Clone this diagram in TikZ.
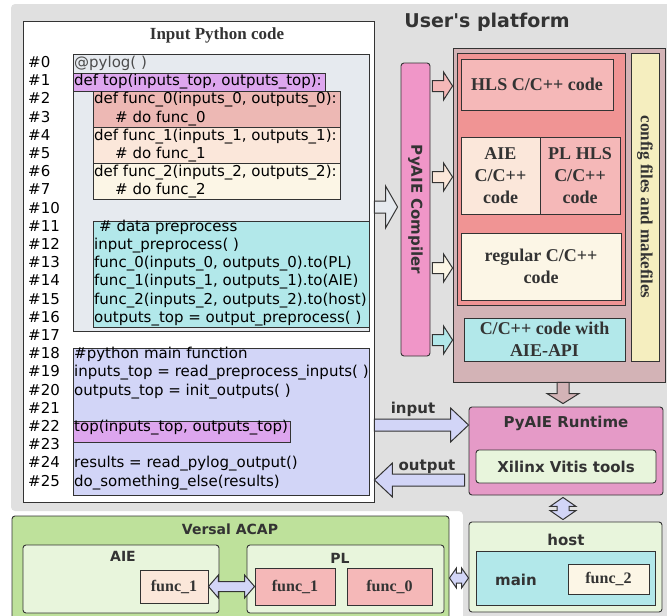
\documentclass[tikz,border=0pt]{standalone}
\usepackage{fontspec}
\setmainfont{Liberation Serif}
\setsansfont{DejaVu Sans}
\usetikzlibrary{calc}

\definecolor{platgray}{HTML}{E0E0E0}
\definecolor{linegray}{HTML}{333333}
\definecolor{txtgray}{HTML}{333333}
\definecolor{decogray}{HTML}{E6EAEF}
\definecolor{toppurple}{HTML}{DDA6EE}
\definecolor{funcred}{HTML}{EDB8B4}
\definecolor{funcpeach}{HTML}{FBE7DA}
\definecolor{funccream}{HTML}{FCF6E6}
\definecolor{prepcyan}{HTML}{B2E8EA}
\definecolor{mainblue}{HTML}{D2D5F7}
\definecolor{compink}{HTML}{F096C8}
\definecolor{platmauve}{HTML}{D3B3B6}
\definecolor{hlsred}{HTML}{F09494}
\definecolor{hlspink}{HTML}{F5B8B8}
\definecolor{cfgyellow}{HTML}{F5EEBF}
\definecolor{rtpink}{HTML}{E59AC7}
\definecolor{lightgreen}{HTML}{E8F5DC}
\definecolor{versalgreen}{HTML}{BEE19B}

\newcommand{\codefont}{\sffamily\fontsize{15}{18}\selectfont}

\tikzset{
  arrshaft/.store in=\arrshaft, arrhead/.store in=\arrhead, arrlen/.store in=\arrlen,
  arrshaft=6pt, arrhead=16pt, arrlen=12pt,
  bgbox/.style={draw=linegray, line width=0.9pt, inner sep=0pt},
  roundbox/.style={bgbox, rounded corners=3pt},
  codetxt/.style={anchor=base west, inner sep=0pt, font=\codefont, text=black},
  sansb/.style={font=\sffamily\bfseries\fontsize{15}{18}\selectfont, text=txtgray, inner sep=0pt},
  serifb/.style={font=\rmfamily\bfseries\fontsize{18}{22}\selectfont, text=txtgray, align=center, inner sep=0pt},
  funcb/.style={font=\rmfamily\bfseries\fontsize{16}{18}\selectfont, text=txtgray, inner sep=0pt},
  blockarr/.style={draw=linegray, line width=1pt, to path={
    let \p1=($(\tikztotarget)-(\tikztostart)$), \n1={atan2(\y1,\x1)},
        \n2={veclen(\x1,\y1)-\arrlen}, \n3={\n1+90}, \n4={\n1-90} in
    ($(\tikztostart)+(\n3:\arrshaft)$) -- ($(\tikztostart)+(\n1:\n2)+(\n3:\arrshaft)$)
    -- ($(\tikztostart)+(\n1:\n2)+(\n3:\arrhead)$) -- (\tikztotarget)
    -- ($(\tikztostart)+(\n1:\n2)+(\n4:\arrhead)$) -- ($(\tikztostart)+(\n1:\n2)+(\n4:\arrshaft)$)
    -- ($(\tikztostart)+(\n4:\arrshaft)$) -- cycle}},
  dblarr/.style={draw=linegray, line width=1pt, to path={
    let \p1=($(\tikztotarget)-(\tikztostart)$), \n1={atan2(\y1,\x1)},
        \n2={veclen(\x1,\y1)-\arrlen}, \n3={\n1+90}, \n4={\n1-90} in
    -- ($(\tikztostart)+(\n1:\arrlen)+(\n3:\arrhead)$) -- ($(\tikztostart)+(\n1:\arrlen)+(\n3:\arrshaft)$)
    -- ($(\tikztostart)+(\n1:\n2)+(\n3:\arrshaft)$) -- ($(\tikztostart)+(\n1:\n2)+(\n3:\arrhead)$)
    -- (\tikztotarget)
    -- ($(\tikztostart)+(\n1:\n2)+(\n4:\arrhead)$) -- ($(\tikztostart)+(\n1:\n2)+(\n4:\arrshaft)$)
    -- ($(\tikztostart)+(\n1:\arrlen)+(\n4:\arrshaft)$) -- ($(\tikztostart)+(\n1:\arrlen)+(\n4:\arrhead)$)
    -- cycle}}
}

\begin{document}
\begin{tikzpicture}[x=1pt, y=-1pt]
  \clip (0,0) rectangle (667,616);
  \fill[platgray, rounded corners=4pt] (11,4) -- (672,4) -- (672,622) -- (463,622)
    -- (463,511) -- (11,511) -- cycle;

  % plain boxes
  \foreach \nm/\xa/\ya/\xb/\yb/\col in {codebox/23/21/374/502/white,
      deco/73/54/369/331/decogray, tophl/73/73/325/91/toppurple,
      fzero/93/91/340/127/funcred, fone/93/127/340/163/funcpeach,
      ftwo/93/163/340/199/funccream, prep/93/221/369/327/prepcyan,
      mainfn/73/348/369/495/mainblue, topcall/73/421/290/442/toppurple,
      platform/453/48/665/382/platmauve, hlsarea/457/53/625/305/hlsred,
      hls/461/59/613/110/hlspink, aiecode/461/137/540/214/funcpeach,
      plcode/540/137/620/214/hlspink, regular/461/233/621/300/funccream,
      aieapi/464/318/625/361/prepcyan, config/631/53/659/361/cfgyellow} {
    \node[bgbox, fill=\col, minimum width={(\xb-\xa)*1pt}, minimum height={(\yb-\ya)*1pt}]
      (\nm) at ({(\xa+\xb)/2},{(\ya+\yb)/2}) {};
  }

  % rounded boxes
  \foreach \nm/\xa/\ya/\xb/\yb/\col in {compiler/401/63/430/356/compink,
      runtime/469/407/663/495/rtpink, vitis/476/450/656/483/lightgreen,
      host/469/522/662/612/lightgreen, versal/12/516/449/630/versalgreen,
      aiebox/23/545/219/613/lightgreen, plbox/247/545/444/613/lightgreen} {
    \node[roundbox, fill=\col, minimum width={(\xb-\xa)*1pt}, minimum height={(\yb-\ya)*1pt}]
      (\nm) at ({(\xa+\xb)/2},{(\ya+\yb)/2}) {};
  }

  % boxes inside host and Versal
  \foreach \nm/\xa/\ya/\xb/\yb/\col in {mainhost/476/551/655/605/prepcyan,
      ftwohost/568/564/649/594/funccream, aiefone/140/570/208/603/funcpeach,
      plfone/255/568/335/605/hlspink, plfzero/347/568/432/605/hlspink} {
    \node[bgbox, fill=\col, minimum width={(\xb-\xa)*1pt}, minimum height={(\yb-\ya)*1pt}]
      (\nm) at ({(\xa+\xb)/2},{(\ya+\yb)/2}) {};
  }

  % python code
  \node[serifb, font=\rmfamily\bfseries\fontsize{17}{20}\selectfont] (codetitle) at (217,35) {Input Python code};
  \foreach \r/\n in {0/0,1/1,2/2,3/3,4/4,5/5,6/6,7/7,8/10,9/11,10/12,11/13,12/14,
                     13/15,14/16,15/17,16/18,17/19,18/20,19/21,20/22,21/23,22/24,23/25} {
    \node[codetxt] (num\r) at (28,{67.5+18.2*\r}) {\#\n};
  }
  \node[codetxt, text=black!70] (code0) at (74,67.5) {@pylog( )};
  \foreach \r/\x/\t in {1/74/{def top(inputs\_top, outputs\_top):},
                        2/94/{def func\_0(inputs\_0, outputs\_0):},
                        3/115/{\# do func\_0},
                        4/94/{def func\_1(inputs\_1, outputs\_1):},
                        5/115/{\# do func\_1},
                        6/94/{def func\_2(inputs\_2, outputs\_2):},
                        7/115/{\# do func\_2},
                        9/99/{\# data preprocess},
                        10/94/{input\_preprocess( )},
                        11/94/{func\_0(inputs\_0, outputs\_0).to(PL)},
                        12/94/{func\_1(inputs\_1, outputs\_1).to(AIE)},
                        13/94/{func\_2(inputs\_2, outputs\_2).to(host)},
                        14/94/{outputs\_top = output\_preprocess( )},
                        16/74/{\#python main function},
                        17/74/{inputs\_top = read\_preprocess\_inputs( )},
                        18/74/{outputs\_top = init\_outputs( )},
                        20/74/{top(inputs\_top, outputs\_top)},
                        22/74/{results = read\_pylog\_output()},
                        23/74/{do\_something\_else(results)}} {
    \node[codetxt] (code\r) at (\x,{67.5+18.2*\r}) {\t};
  }

  % platform texts
  \node[sansb, font=\sffamily\bfseries\fontsize{19}{22}\selectfont] (plattitle) at (487,22) {User\textquotesingle s platform};
  \node[sansb, rotate=-90] (comptxt) at (compiler) {PyAIE Compiler};
  \node[serifb] (hlstxt) at (hls) {HLS C/C++ code};
  \node[serifb] (aietxt) at (aiecode) {AIE\\C/C++\\code};
  \node[serifb] (pltxt) at (plcode) {PL HLS\\C/C++\\code};
  \node[serifb] (regtxt) at (regular) {regular C/C++\\code};
  \node[serifb] (apitxt) at (aieapi) {C/C++ code with\\AIE-API};
  \node[serifb, rotate=-90, font=\rmfamily\bfseries\fontsize{17}{20}\selectfont] (cfgtxt) at (config) {config files and makefiles};
  \node[sansb] (rttxt) at (566,423) {PyAIE Runtime};
  \node[sansb] (vitistxt) at (vitis) {Xilinx Vitis tools};
  \node[sansb] (intxt) at (413,409) {input};
  \node[sansb] (outtxt) at (427,467) {output};

  % hardware texts
  \node[sansb, font=\sffamily\bfseries\fontsize{14}{16}\selectfont] (versaltxt) at (230,529) {Versal ACAP};
  \node[sansb, font=\sffamily\bfseries\fontsize{14}{16}\selectfont] (aieboxtxt) at (123,556) {AIE};
  \node[sansb, font=\sffamily\bfseries\fontsize{14}{16}\selectfont] (plboxtxt) at (340,558) {PL};
  \node[sansb] (hosttxt) at (566,540) {host};
  \node[sansb] (maintxt) at (516,580) {main};
  \node[funcb] (aief1txt) at (aiefone) {func\_1};
  \node[funcb] (plf1txt) at (plfone) {func\_1};
  \node[funcb] (plf0txt) at (plfzero) {func\_0};
  \node[funcb] (hostf2txt) at (ftwohost) {func\_2};

  % block arrows
  \coordinate (cmpin) at ([xshift=-3pt, yshift=2.5pt]compiler.west);
  \coordinate (cmpout) at ([xshift=2pt]compiler.east);
  \coordinate (inport) at ([yshift=26pt]runtime.west);
  \coordinate (outport) at ([xshift=-4pt, yshift=-29pt]runtime.west);
  \draw[blockarr, fill=decogray, arrshaft=6pt, arrhead=21pt, arrlen=12pt] (codebox.east |- cmpin) to (cmpin);
  \foreach \ay/\col in {86/hlspink, 177/funcpeach, 268/funccream, 340/prepcyan} {
    \coordinate (cmpto) at (platform.west |- 0,\ay);
    \draw[blockarr, fill=\col, arrshaft=5.5pt, arrhead=14pt, arrlen=9pt] (cmpout |- cmpto) to (cmpto);
  }
  \coordinate (rtin) at ([yshift=3pt]runtime.north -| 563,0);
  \draw[blockarr, fill=platmauve, arrshaft=6pt, arrhead=16pt, arrlen=10pt] (platform.south -| rtin) to (rtin);
  \draw[blockarr, fill=mainblue, arrshaft=6pt, arrhead=17pt, arrlen=18pt] (codebox.east |- inport) to (inport);
  \coordinate (codeout) at (codebox.east |- outport);
  \draw[blockarr, fill=mainblue, arrshaft=6pt, arrhead=17pt, arrlen=18pt] (outport) to (codeout);
  \coordinate (hostin) at ([yshift=2pt]host.north -| 563,0);
  \draw[dblarr, fill=mainblue, arrshaft=6pt, arrhead=13pt, arrlen=9pt]
    ([yshift=-2pt]runtime.south -| hostin) to (hostin);
  \coordinate (hostside) at (host.west |- 0,578);
  \draw[dblarr, fill=mainblue, arrshaft=5pt, arrhead=10pt, arrlen=7pt] (versal.east |- hostside) to (hostside);
  \draw[dblarr, fill=mainblue, arrshaft=5pt, arrhead=11.5pt, arrlen=10pt] (aiefone.east) to (plfone.west);
\end{tikzpicture}
\end{document}
